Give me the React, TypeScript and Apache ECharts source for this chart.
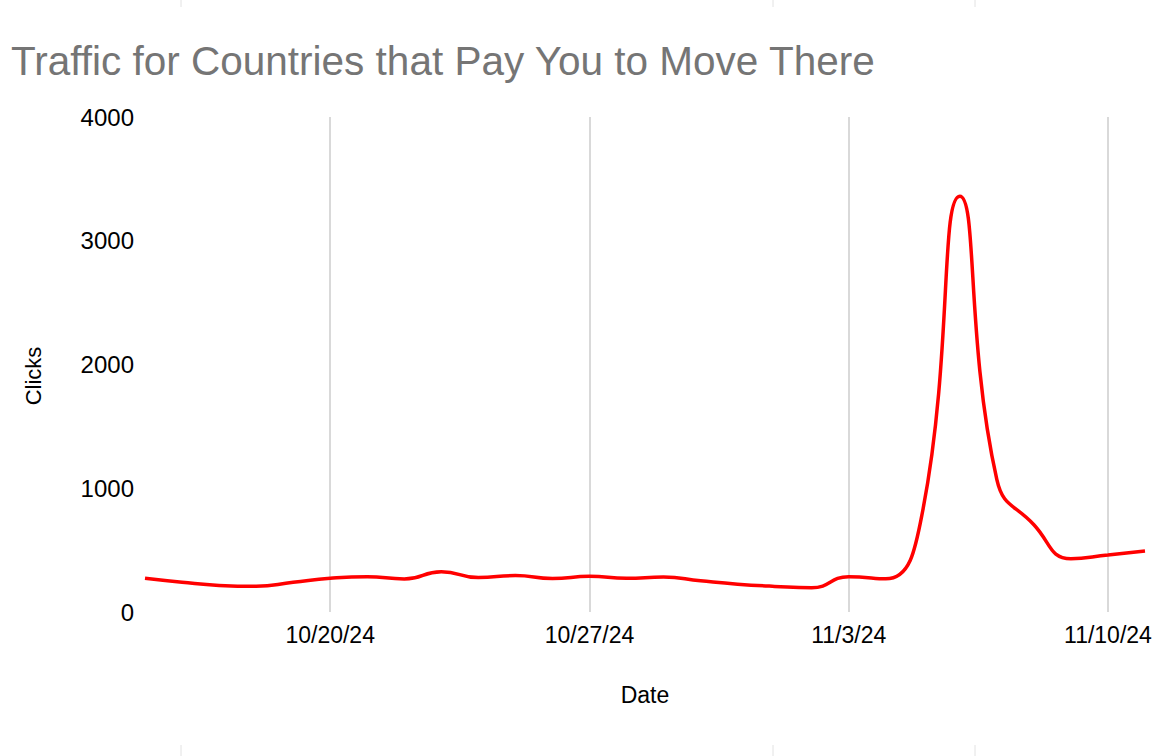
import React, { useEffect, useRef } from "react";
import * as echarts from "echarts";

const titleText = "Traffic for Countries that Pay You to Move There";
const xAxisName = "Date";
const yAxisName = "Clicks";

const dates = [
  "10/15/24", "10/16/24", "10/17/24", "10/18/24", "10/19/24", "10/20/24", "10/21/24",
  "10/22/24", "10/23/24", "10/24/24", "10/25/24", "10/26/24", "10/27/24", "10/28/24",
  "10/29/24", "10/30/24", "10/31/24", "11/1/24", "11/2/24", "11/3/24", "11/4/24",
  "11/5/24", "11/6/24", "11/7/24", "11/8/24", "11/9/24", "11/10/24", "11/11/24",
];

const clicks = [
  272, 240, 215, 208, 240, 272, 285,
  267, 326, 278, 294, 270, 288, 272,
  282, 252, 225, 207, 196, 285, 268,
  820, 3360, 1070, 705, 430, 460, 492,
];

const labeledDates = ["10/20/24", "10/27/24", "11/3/24", "11/10/24"];

const edgeMarksX = [181, 773, 975];

const FONT = "'Liberation Sans', Arial, sans-serif";

export default function App() {
  const ref = useRef<HTMLDivElement>(null);

  useEffect(() => {
    if (!ref.current) return;
    const chart = echarts.init(ref.current, null, { renderer: "svg" });
    const showIdx = (i: number) => labeledDates.includes(dates[i]);
    const marks: any[] = [];
    edgeMarksX.forEach((x) => {
      marks.push({
        type: "line",
        silent: true,
        shape: { x1: x, y1: 0, x2: x, y2: 7 },
        style: { stroke: "#e2e2e2", lineWidth: 1 },
      });
      marks.push({
        type: "line",
        silent: true,
        shape: { x1: x, y1: 745, x2: x, y2: 756 },
        style: { stroke: "#e2e2e2", lineWidth: 1 },
      });
    });
    chart.setOption({
      animation: false,
      backgroundColor: "#ffffff",
      title: {
        text: titleText,
        left: 6,
        top: 35,
        textStyle: {
          color: "#757575",
          fontSize: 40.5,
          fontWeight: "normal",
          fontFamily: FONT,
        },
      },
      graphic: [
        ...marks,
        {
          type: "text",
          x: 33,
          y: 376,
          rotation: Math.PI / 2,
          style: {
            text: yAxisName,
            fill: "#000",
            font: `22px ${FONT}`,
            align: "center",
            verticalAlign: "middle",
          },
        },
      ],
      grid: {
        left: 145,
        right: 27,
        top: 117,
        bottom: 144,
        containLabel: false,
      },
      xAxis: {
        type: "category",
        data: dates,
        boundaryGap: false,
        name: xAxisName,
        nameLocation: "middle",
        nameGap: 71,
        nameTextStyle: { color: "#000", fontSize: 23, fontFamily: FONT },
        axisLine: { show: false },
        axisTick: { show: false },
        axisLabel: {
          interval: (i: number) => showIdx(i),
          color: "#000",
          fontSize: 23,
          fontFamily: FONT,
          margin: 11,
        },
        splitLine: {
          show: true,
          interval: (i: number) => showIdx(i),
          lineStyle: { color: "#cccccc", width: 1.5 },
        },
      },
      yAxis: {
        type: "value",
        min: 0,
        max: 4000,
        interval: 1000,
        axisLine: { show: false },
        axisTick: { show: false },
        splitLine: { show: false },
        axisLabel: {
          color: "#000",
          fontSize: 24,
          fontFamily: FONT,
          margin: 11,
          formatter: (v: number) => String(v),
        },
      },
      series: [
        {
          type: "line",
          data: clicks,
          smooth: 0.5,
          showSymbol: false,
          lineStyle: { color: "#ff0000", width: 3.5 },
          itemStyle: { color: "#ff0000" },
        },
      ],
    });
    return () => chart.dispose();
  }, []);

  return (
    <div
      ref={ref}
      style={{ position: "fixed", left: 0, top: 0, width: 1172, height: 756 }}
    />
  );
}
